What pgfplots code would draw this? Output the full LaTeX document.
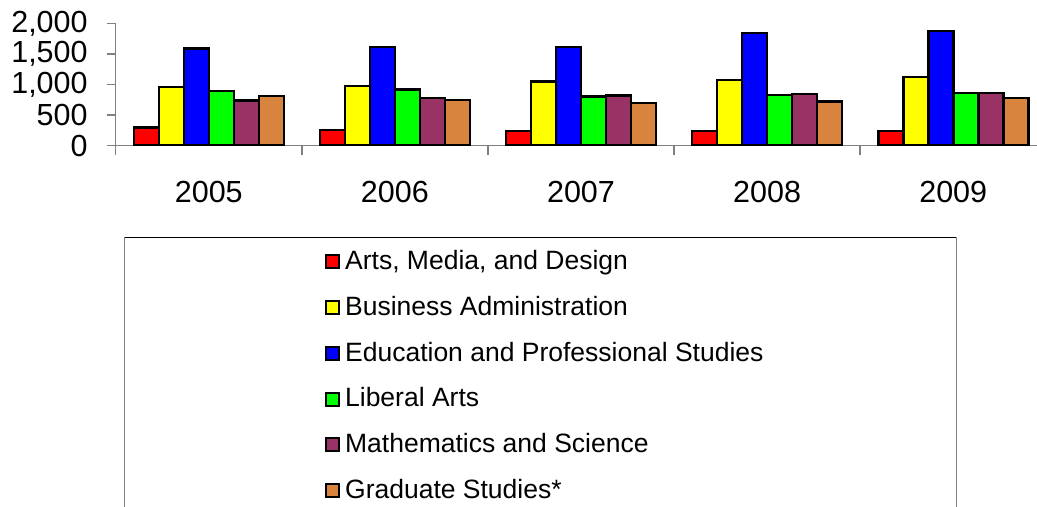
\documentclass[border=0pt]{standalone}
\usepackage{fontspec}
\setmainfont{Liberation Sans}
\usepackage{pgfplots}
\pgfplotsset{compat=1.18}
\definecolor{cRed}{HTML}{FF0000}
\definecolor{cYellow}{HTML}{FFFF00}
\definecolor{cBlue}{HTML}{0000FF}
\definecolor{cGreen}{HTML}{00FF00}
\definecolor{cPlum}{HTML}{993366}
\definecolor{cTan}{HTML}{D8843F}
\definecolor{axGray}{HTML}{808080}

\begin{document}
\begin{tikzpicture}[x=0.5pt,y=0.5pt]
\useasboundingbox (0,0) rectangle (1037,-507);
\clip (0,0) rectangle (1037,-507);
\begin{axis}[
  scale only axis,
  width=460.65pt, height=61pt,
  at={(57.85pt,-72.85pt)}, anchor=south west,
  xmin=-0.5, xmax=4.45, ymin=0, ymax=2000,
  axis x line*=bottom, axis y line*=left,
  axis line style={-, draw=axGray, line width=0.75pt},
  ybar=0pt, bar width=12.5pt,
  xtick={-0.5,0.5,1.5,2.5,3.5}, xticklabels={},
  extra x ticks={0,1,2,3,4},
  extra x tick labels={2005,2006,2007,2008,2009},
  extra x tick style={major tick length=0pt},
  ytick={0,500,1000,1500,2000},
  major tick length=4.5pt, tick align=outside,
  tick style={draw=axGray, line width=0.75pt},
  /pgf/number format/assume math mode=true,
  /pgf/number format/1000 sep={,},
  tick label style={font=\fontsize{15.25}{18}\selectfont},
  yticklabel style={xshift=-6pt},
  xticklabel style={yshift=-14pt},
  every axis plot/.append style={draw=black, line width=1.25pt},
  legend style={at={(axis description cs:0.2206,-0.832)}, anchor=north west,
    draw=none, fill=none, font=\fontsize{13.25}{15.75}\selectfont,
    nodes={inner sep=0pt, text height=9pt, text depth=3pt},
    column sep=2.4pt, row sep=10.85pt},
  legend cell align=left,
  legend image code/.code={\draw[#1, line width=1pt] (0pt,-2.4pt) rectangle (6.5pt,4.1pt);},
]
\addplot[fill=cRed] coordinates {(0,300) (1,255) (2,240) (3,240) (4,240)};
\addplot[fill=cYellow] coordinates {(0,965) (1,975) (2,1050) (3,1080) (4,1130)};
\addplot[fill=cBlue] coordinates {(0,1590) (1,1620) (2,1620) (3,1845) (4,1880)};
\addplot[fill=cGreen] coordinates {(0,895) (1,925) (2,810) (3,830) (4,865)};
\addplot[fill=cPlum] coordinates {(0,745) (1,780) (2,825) (3,845) (4,860)};
\addplot[fill=cTan] coordinates {(0,815) (1,750) (2,700) (3,725) (4,780)};
\legend{{Arts, Media, and Design},{Business Administration},{Education and Professional Studies},{Liberal Arts},{Mathematics and Science},{Graduate Studies*}}
\end{axis}
\draw[axGray, line width=0.75pt] (124.7,-600) -- (124.7,-237.3);
\draw[black, line width=0.75pt] (124.7,-237.3) -- (956.7,-237.3);
\draw[axGray, line width=0.75pt] (956.7,-237.3) -- (956.7,-600);
\end{tikzpicture}
\end{document}
